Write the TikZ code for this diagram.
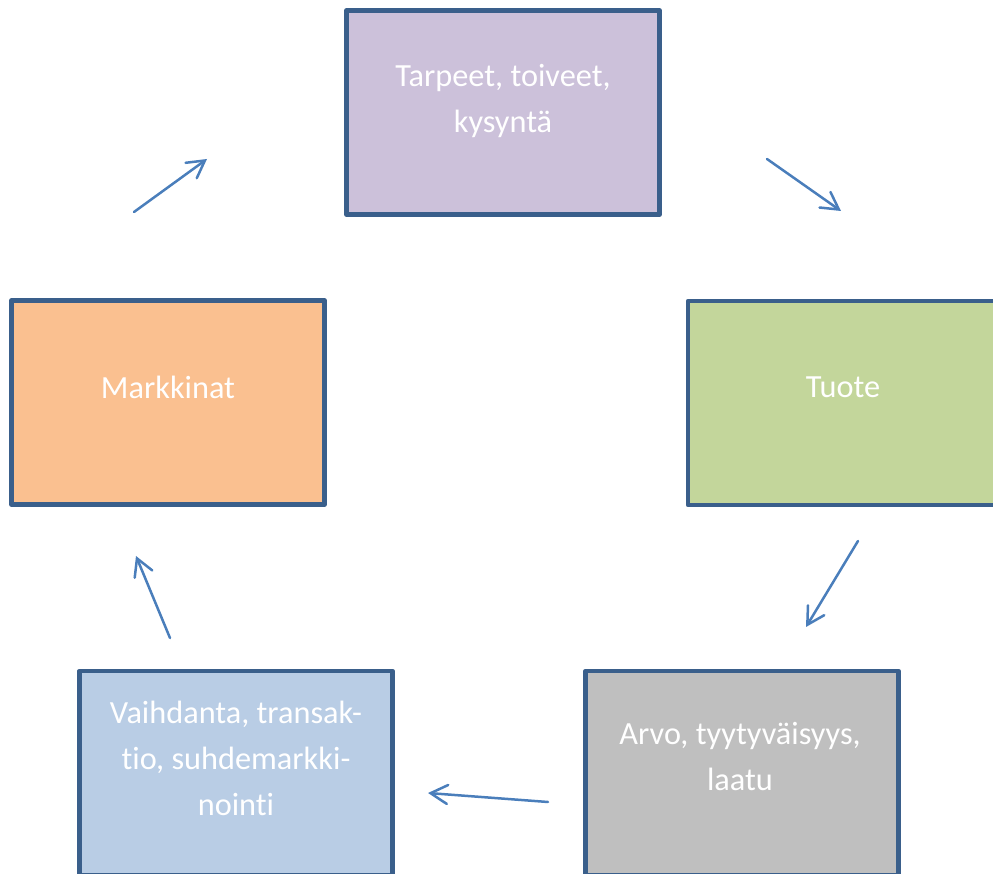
\documentclass[tikz,border=0pt]{standalone}
\usepackage{fontspec}
\setmainfont{Carlito}[Ligatures=NoCommon]
\usetikzlibrary{arrows.meta,calc}
\definecolor{rajaus}{HTML}{3A5F8B}
\definecolor{nuoli}{HTML}{4A7EBB}
\definecolor{violetti}{HTML}{CCC1DA}
\definecolor{oranssi}{HTML}{FAC090}
\definecolor{vihrea}{HTML}{C3D69B}
\definecolor{harmaa}{HTML}{BFBFBF}
\definecolor{sininen}{HTML}{B9CDE5}
\tikzset{
  laatikko/.style={draw=rajaus,line width=4.8pt,minimum width=313pt,minimum height=204pt,inner sep=0pt},
  teksti/.style={text=white,align=center,font=\fontsize{32.3}{46}\selectfont},
  kierto/.style={draw=nuoli,line width=2.5pt,-{Straight Barb[length=17pt,width=19pt,line cap=round]}}
}
\begin{document}
\begin{tikzpicture}[x=1pt,y=1pt,line cap=round,line join=round]
\useasboundingbox (0,0) rectangle (993,873);
\clip (0,0) rectangle (993,873);
\node[laatikko,fill=violetti] (tarpeet) at (503,760.5) {};
\node[laatikko,fill=vihrea] (tuote) at (844.5,470) {};
\node[laatikko,fill=harmaa] (arvo) at (742,100) {};
\node[laatikko,fill=sininen] (vaihdanta) at (236,100) {};
\node[laatikko,fill=oranssi] (markkinat) at (168,470.5) {};
\node[teksti] (tarpeetT) at (503,772) {Tarpeet, toiveet,\\kysyntä};
\node[teksti] (tuoteT) at (843,486) {Tuote};
\node[teksti] (arvoT) at (740,116) {Arvo, tyytyväisyys,\\laatu};
\node[teksti] (vaihdantaT) at (236,115) {Vaihdanta, transak-\\tio, suhdemarkki-\\nointi};
\node[teksti] (markkinatT) at (168,486) {Markkinat};
\coordinate (n1a) at (134,661);
\coordinate (n1b) at (207,714);
\coordinate (n2a) at (767,714);
\coordinate (n2b) at (841,662);
\coordinate (n3a) at (858,332);
\coordinate (n3b) at (806,246);
\coordinate (n4a) at (548,71);
\coordinate (n4b) at (428,80);
\coordinate (n5a) at (170,235);
\coordinate (n5b) at (136,317);
\draw[kierto] (n1a) -- (n1b);
\draw[kierto] (n2a) -- (n2b);
\draw[kierto] (n3a) -- (n3b);
\draw[kierto] (n4a) -- (n4b);
\draw[kierto] (n5a) -- (n5b);
\end{tikzpicture}
\end{document}
